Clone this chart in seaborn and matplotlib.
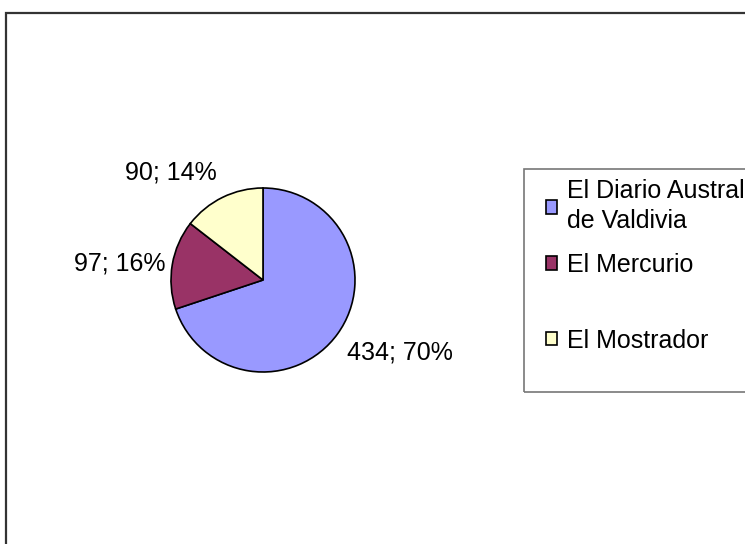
import numpy as np
import matplotlib
matplotlib.use("Agg")
import matplotlib.pyplot as plt
import seaborn as sns
from matplotlib.patches import Rectangle

# --- data ---
medios = ["El Diario Austral\nde Valdivia", "El Mercurio", "El Mostrador"]
valores = [434, 97, 90]
colores = ["#9999FF", "#993366", "#FFFFCC"]

# label distance from centre (in radii) per slice, to mimic the Excel layout
label_dist = [1.13, 1.08, 1.15]

sns.set_theme(style="white")
plt.rcParams["font.family"] = ["Liberation Sans", "DejaVu Sans"]
plt.rcParams["text.color"] = "black"

W, H = 745, 544
fig = plt.figure(figsize=(W / 100, H / 100), dpi=100)

# pie centre and radius in pixels
cx, cy, r = 263, 280, 92
ax = fig.add_axes([(cx - r) / W, (H - cy - r) / H, 2 * r / W, 2 * r / H])

wedges, _ = ax.pie(
    valores,
    colors=colores,
    startangle=90,
    counterclock=False,
    wedgeprops=dict(edgecolor="black", linewidth=1.2),
)
ax.set_xlim(-1, 1)
ax.set_ylim(-1, 1)
ax.set_aspect("equal")
ax.axis("off")

total = sum(valores)
for w, v, d in zip(wedges, valores, label_dist):
    ang = np.deg2rad((w.theta1 + w.theta2) / 2)
    x, y = d * np.cos(ang), d * np.sin(ang)
    ha = "left" if x > 0 else "right"
    if y < -0.3:
        va = "top"
    elif y > 0.3:
        va = "bottom"
    else:
        va = "center"
    ax.text(x, y, f"{v}; {round(v / total * 100)}%", ha=ha, va=va,
            fontsize=18, color="black")

# legend: Excel spaces the last entry further down, so it is split in two
legend_kw = dict(
    loc="upper left",
    bbox_transform=fig.transFigure,
    frameon=False,
    fontsize=18,
    borderpad=0,
    handlelength=0.45,
    handleheight=0.45,
    handletextpad=0.4,
    labelcolor="black",
)
leg1 = ax.legend(wedges[:2], medios[:2], bbox_to_anchor=(533 / W, 1 - 167 / H),
                 labelspacing=0.78, **legend_kw)
for t in leg1.get_texts():
    t.set_linespacing(1.3)
ax.add_artist(leg1)
leg2 = ax.legend(wedges[2:], medios[2:], bbox_to_anchor=(533 / W, 1 - 316 / H),
                 **legend_kw)
for lg in (leg1, leg2):
    for h in lg.legend_handles:
        h.set_edgecolor("black")
        h.set_linewidth(1.2)

fig.patches.append(Rectangle((524 / W, 1 - 392 / H), 300 / W, 223 / H,
                             transform=fig.transFigure, fill=False,
                             edgecolor="#777777", linewidth=1.2))

# outer chart border (only left and top edges are visible)
fig.patches.append(Rectangle((6.5 / W, -0.1), 1.2, 1 - 13 / H + 0.1,
                             transform=fig.transFigure, fill=False,
                             edgecolor="#333333", linewidth=1.6))

fig.savefig("out.png", dpi=100, facecolor="white")
